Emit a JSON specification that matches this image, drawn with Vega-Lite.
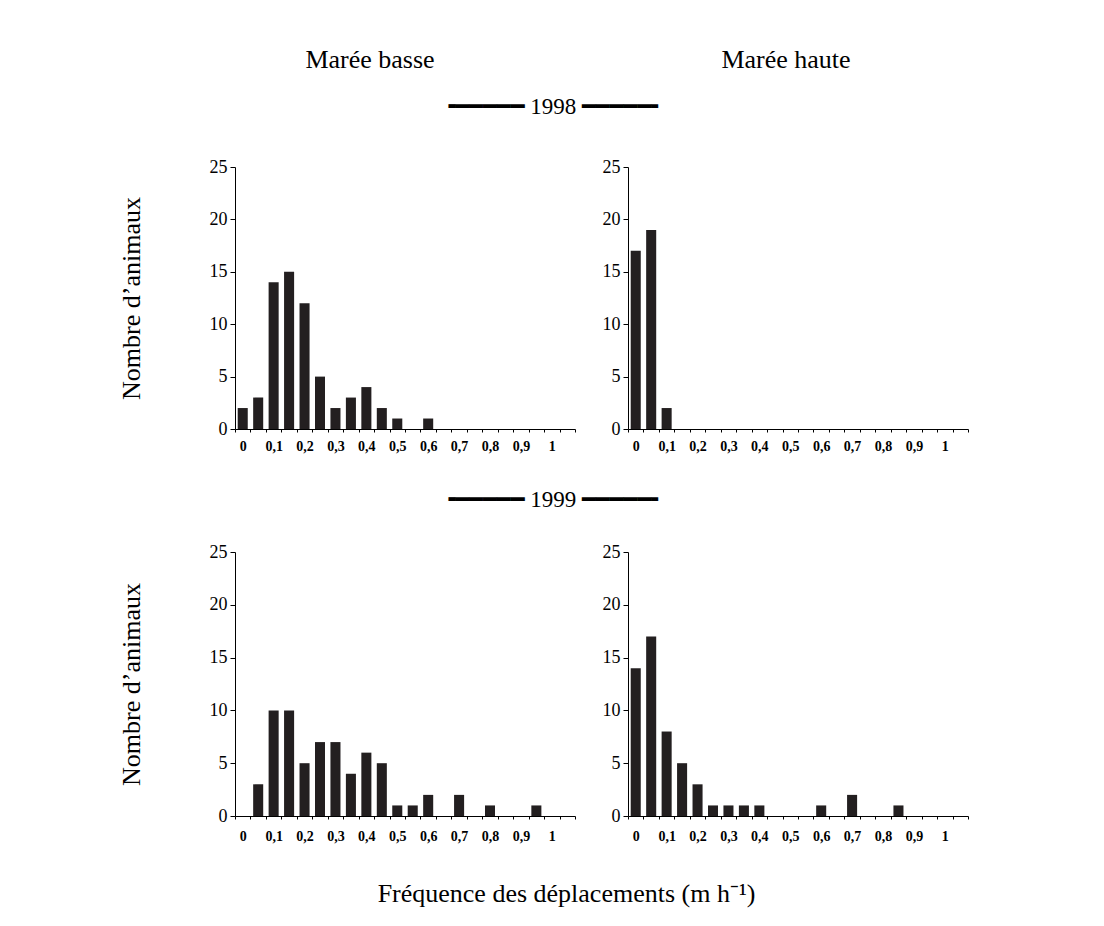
{
  "$schema": "https://vega.github.io/schema/vega-lite/v6.json",
  "background": "white",
  "padding": {"left": 118, "top": 46, "right": 10, "bottom": 10},
  "datasets": {
    "b98": [
      {"bin": 0, "n": 2}, {"bin": 0.05, "n": 3}, {"bin": 0.1, "n": 14}, {"bin": 0.15, "n": 15},
      {"bin": 0.2, "n": 12}, {"bin": 0.25, "n": 5}, {"bin": 0.3, "n": 2}, {"bin": 0.35, "n": 3},
      {"bin": 0.4, "n": 4}, {"bin": 0.45, "n": 2}, {"bin": 0.5, "n": 1}, {"bin": 0.55, "n": 0},
      {"bin": 0.6, "n": 1}, {"bin": 0.65, "n": 0}, {"bin": 0.7, "n": 0}, {"bin": 0.75, "n": 0},
      {"bin": 0.8, "n": 0}, {"bin": 0.85, "n": 0}, {"bin": 0.9, "n": 0}, {"bin": 0.95, "n": 0},
      {"bin": 1, "n": 0}, {"bin": 1.05, "n": 0}
    ],
    "h98": [
      {"bin": 0, "n": 17}, {"bin": 0.05, "n": 19}, {"bin": 0.1, "n": 2}, {"bin": 0.15, "n": 0},
      {"bin": 0.2, "n": 0}, {"bin": 0.25, "n": 0}, {"bin": 0.3, "n": 0}, {"bin": 0.35, "n": 0},
      {"bin": 0.4, "n": 0}, {"bin": 0.45, "n": 0}, {"bin": 0.5, "n": 0}, {"bin": 0.55, "n": 0},
      {"bin": 0.6, "n": 0}, {"bin": 0.65, "n": 0}, {"bin": 0.7, "n": 0}, {"bin": 0.75, "n": 0},
      {"bin": 0.8, "n": 0}, {"bin": 0.85, "n": 0}, {"bin": 0.9, "n": 0}, {"bin": 0.95, "n": 0},
      {"bin": 1, "n": 0}, {"bin": 1.05, "n": 0}
    ],
    "b99": [
      {"bin": 0, "n": 0}, {"bin": 0.05, "n": 3}, {"bin": 0.1, "n": 10}, {"bin": 0.15, "n": 10},
      {"bin": 0.2, "n": 5}, {"bin": 0.25, "n": 7}, {"bin": 0.3, "n": 7}, {"bin": 0.35, "n": 4},
      {"bin": 0.4, "n": 6}, {"bin": 0.45, "n": 5}, {"bin": 0.5, "n": 1}, {"bin": 0.55, "n": 1},
      {"bin": 0.6, "n": 2}, {"bin": 0.65, "n": 0}, {"bin": 0.7, "n": 2}, {"bin": 0.75, "n": 0},
      {"bin": 0.8, "n": 1}, {"bin": 0.85, "n": 0}, {"bin": 0.9, "n": 0}, {"bin": 0.95, "n": 1},
      {"bin": 1, "n": 0}, {"bin": 1.05, "n": 0}
    ],
    "h99": [
      {"bin": 0, "n": 14}, {"bin": 0.05, "n": 17}, {"bin": 0.1, "n": 8}, {"bin": 0.15, "n": 5},
      {"bin": 0.2, "n": 3}, {"bin": 0.25, "n": 1}, {"bin": 0.3, "n": 1}, {"bin": 0.35, "n": 1},
      {"bin": 0.4, "n": 1}, {"bin": 0.45, "n": 0}, {"bin": 0.5, "n": 0}, {"bin": 0.55, "n": 0},
      {"bin": 0.6, "n": 1}, {"bin": 0.65, "n": 0}, {"bin": 0.7, "n": 2}, {"bin": 0.75, "n": 0},
      {"bin": 0.8, "n": 0}, {"bin": 0.85, "n": 1}, {"bin": 0.9, "n": 0}, {"bin": 0.95, "n": 0},
      {"bin": 1, "n": 0}, {"bin": 1.05, "n": 0}
    ]
  },
  "title": {
    "text": "Fréquence des déplacements (m h⁻¹)",
    "orient": "bottom",
    "anchor": "middle",
    "fontSize": 26,
    "offset": 38,
    "dx": -21
  },
  "spacing": 12,
  "vconcat": [
    {
      "spacing": 10,
      "hconcat": [
        {
          "width": 270, "height": 1,
          "data": {"values": [{}]},
          "mark": {"type": "text"},
          "encoding": {"text": {"value": ""}},
          "title": {"text": "Marée basse", "fontSize": 26, "offset": 0, "anchor": "middle"}
        },
        {
          "width": 542, "height": 1,
          "data": {"values": [{}]},
          "mark": {"type": "text"},
          "encoding": {"text": {"value": ""}},
          "title": {"text": "Marée haute", "fontSize": 26, "offset": 0, "anchor": "middle"}
        }
      ]
    },
    {
      "spacing": 36,
      "vconcat": [
        {
          "title": {"text": "╺━━━━━ 1998 ━━━━━╸", "fontSize": 23, "anchor": "middle", "offset": 39, "dx": 10, "font": "Liberation Serif, DejaVu Sans"},
          "spacing": 26,
          "hconcat": [
            {
              "width": 340, "height": 262,
              "data": {"name": "b98"},
              "mark": {"type": "bar", "color": "#231f20", "width": {"band": 0.65}},
              "encoding": {
                "x": {"field": "bin", "type": "ordinal", "scale": {"paddingInner": 0, "paddingOuter": 0},
                  "axis": {"title": null, "tickBand": "extent", "tickSize": 3, "labelPadding": 7, "labelAngle": 0, "labelFontSize": 14, "labelFontWeight": "bold", "labelOverlap": false,
                    "labelExpr": "round(datum.value*20) % 2 == 0 ? replace(format(datum.value, '.1~f'), '.', ',') : ''"}},
                "y": {"field": "n", "type": "quantitative", "scale": {"domain": [0, 25], "nice": false},
                  "axis": {"values": [0, 5, 10, 15, 20, 25], "title": "Nombre d’animaux", "titleFontSize": 26, "titlePadding": 65, "tickSize": 5, "labelPadding": 3, "labelFontSize": 18}}
              }
            },
            {
              "width": 340, "height": 262,
              "data": {"name": "h98"},
              "mark": {"type": "bar", "color": "#231f20", "width": {"band": 0.65}},
              "encoding": {
                "x": {"field": "bin", "type": "ordinal", "scale": {"paddingInner": 0, "paddingOuter": 0},
                  "axis": {"title": null, "tickBand": "extent", "tickSize": 3, "labelPadding": 7, "labelAngle": 0, "labelFontSize": 14, "labelFontWeight": "bold", "labelOverlap": false,
                    "labelExpr": "round(datum.value*20) % 2 == 0 ? replace(format(datum.value, '.1~f'), '.', ',') : ''"}},
                "y": {"field": "n", "type": "quantitative", "scale": {"domain": [0, 25], "nice": false},
                  "axis": {"values": [0, 5, 10, 15, 20, 25], "title": null, "tickSize": 5, "labelPadding": 3, "labelFontSize": 18}}
              }
            }
          ]
        },
        {
          "title": {"text": "╺━━━━━ 1999 ━━━━━╸", "fontSize": 23, "anchor": "middle", "offset": 31, "dx": 10, "font": "Liberation Serif, DejaVu Sans"},
          "spacing": 26,
          "hconcat": [
            {
              "width": 340, "height": 264,
              "data": {"name": "b99"},
              "mark": {"type": "bar", "color": "#231f20", "width": {"band": 0.65}},
              "encoding": {
                "x": {"field": "bin", "type": "ordinal", "scale": {"paddingInner": 0, "paddingOuter": 0},
                  "axis": {"title": null, "tickBand": "extent", "tickSize": 3, "labelPadding": 10, "labelAngle": 0, "labelFontSize": 14, "labelFontWeight": "bold", "labelOverlap": false,
                    "labelExpr": "round(datum.value*20) % 2 == 0 ? replace(format(datum.value, '.1~f'), '.', ',') : ''"}},
                "y": {"field": "n", "type": "quantitative", "scale": {"domain": [0, 25], "nice": false},
                  "axis": {"values": [0, 5, 10, 15, 20, 25], "title": "Nombre d’animaux", "titleFontSize": 26, "titlePadding": 65, "tickSize": 5, "labelPadding": 3, "labelFontSize": 18}}
              }
            },
            {
              "width": 340, "height": 264,
              "data": {"name": "h99"},
              "mark": {"type": "bar", "color": "#231f20", "width": {"band": 0.65}},
              "encoding": {
                "x": {"field": "bin", "type": "ordinal", "scale": {"paddingInner": 0, "paddingOuter": 0},
                  "axis": {"title": null, "tickBand": "extent", "tickSize": 3, "labelPadding": 10, "labelAngle": 0, "labelFontSize": 14, "labelFontWeight": "bold", "labelOverlap": false,
                    "labelExpr": "round(datum.value*20) % 2 == 0 ? replace(format(datum.value, '.1~f'), '.', ',') : ''"}},
                "y": {"field": "n", "type": "quantitative", "scale": {"domain": [0, 25], "nice": false},
                  "axis": {"values": [0, 5, 10, 15, 20, 25], "title": null, "tickSize": 5, "labelPadding": 3, "labelFontSize": 18}}
              }
            }
          ]
        }
      ]
    }
  ],
  "config": {
    "font": "Liberation Serif",
    "view": {"stroke": null},
    "axis": {"domainColor": "#000", "tickColor": "#000", "labelColor": "#000", "titleColor": "#000", "grid": false,
      "labelFont": "Liberation Serif", "titleFont": "Liberation Serif", "titleFontWeight": "normal"},
    "title": {"font": "Liberation Serif", "fontWeight": "normal", "color": "#000"}
  }
}
